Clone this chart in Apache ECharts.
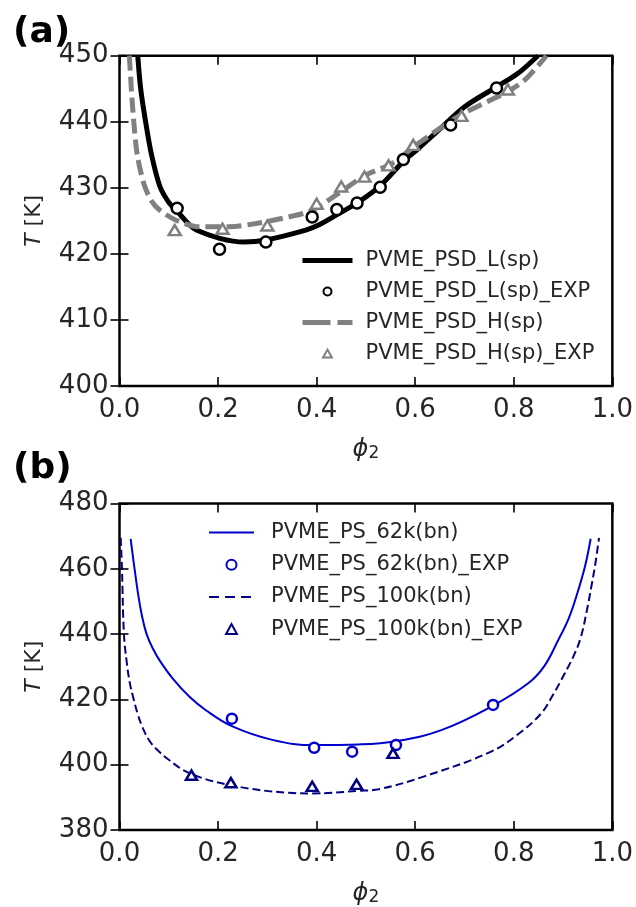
<!DOCTYPE html>
<html>
<head>
<meta charset="utf-8">
<script src="https://cdn.jsdelivr.net/npm/echarts@6/dist/echarts.min.js"></script>
<style>
  html, body { margin: 0; padding: 0; background: #fff; }
  #chart { width: 636px; height: 907px; }
</style>
</head>
<body>
<div id="chart"></div>
<script>
// ---- (a) spinodal curves, PVME / PSD blends: [phi2, T in K] ----
const psdLowCurve = [
  [0.037, 450], [0.043, 445], [0.053, 440], [0.065, 435], [0.082, 430.2],
  [0.100, 427.8], [0.115, 426.6], [0.156, 423.6], [0.253, 421.8], [0.297, 422.1],
  [0.378, 423.6], [0.405, 424.4], [0.445, 426.1], [0.482, 427.7], [0.529, 430.3],
  [0.576, 434.0], [0.606, 435.9], [0.647, 438.7], [0.701, 442.3], [0.761, 445.1],
  [0.808, 447.3], [0.849, 450]
];
const psdLowExp = [
  [0.117, 426.9], [0.203, 420.7], [0.297, 421.8], [0.391, 425.6], [0.441, 426.7],
  [0.482, 427.7], [0.529, 430.1], [0.576, 434.3], [0.672, 439.5], [0.765, 445.1]
];
const psdHighCurve = [
  [0.020, 450], [0.024, 445], [0.029, 440], [0.036, 435], [0.050, 430.5],
  [0.065, 428.0], [0.082, 426.6], [0.115, 425.1], [0.162, 424.1], [0.223, 424.1],
  [0.277, 424.6], [0.344, 425.6], [0.391, 426.6], [0.445, 429.2], [0.499, 431.9],
  [0.553, 433.7], [0.606, 436.7], [0.694, 441.1], [0.781, 444.3], [0.822, 446.3],
  [0.862, 449.6], [0.866, 450]
];
const psdHighExp = [
  [0.112, 423.6], [0.209, 423.8], [0.300, 424.3], [0.400, 427.6], [0.450, 430.2],
  [0.497, 431.7], [0.546, 433.4], [0.596, 436.5], [0.694, 440.9], [0.788, 444.9]
];

// ---- (b) binodal curves, PVME / PS blends ----
const ps62kCurve = [
  [0.0226, 469.2], [0.027, 464.0], [0.031, 459.5], [0.037, 453.0], [0.045, 446.0],
  [0.055, 440.0], [0.068, 435.5], [0.082, 431.8], [0.109, 426.2], [0.142, 420.8],
  [0.176, 416.6], [0.228, 411.8], [0.310, 407.6], [0.395, 406.0], [0.485, 406.2],
  [0.561, 407.2], [0.653, 410.6], [0.758, 418.1], [0.830, 425.0], [0.862, 430.2],
  [0.889, 437.8], [0.912, 445.0], [0.929, 452.5], [0.945, 461.0], [0.956, 469.2]
];
const ps62kExp = [
  [0.228, 414.1], [0.395, 405.2], [0.472, 404.0], [0.561, 406.0], [0.758, 418.3]
];
const ps100kCurve = [
  [0.0024, 469.5], [0.005, 460.0], [0.009, 440.0], [0.015, 431.0], [0.021, 425.0],
  [0.028, 420.5], [0.038, 415.0], [0.048, 411.0], [0.060, 407.5], [0.075, 404.8],
  [0.100, 401.5], [0.142, 397.4], [0.226, 393.7], [0.344, 391.4], [0.391, 391.2],
  [0.485, 392.0], [0.526, 392.5], [0.620, 396.5], [0.754, 404.0], [0.810, 409.5],
  [0.855, 415.6], [0.880, 421.5], [0.9025, 427.7], [0.922, 433.5], [0.936, 439.0],
  [0.948, 447.0], [0.958, 455.0], [0.966, 462.0], [0.973, 469.5]
];
const ps100kExp = [
  [0.146, 396.8], [0.226, 394.5], [0.391, 393.4], [0.481, 394.0], [0.555, 403.5]
];

// ---- axis ticks ----
const phiTicks = [0.0, 0.2, 0.4, 0.6, 0.8, 1.0];
const tempTicksA = [400, 410, 420, 430, 440, 450];
const tempTicksB = [380, 400, 420, 440, 460, 480];

const FONT = 'DejaVu Sans';
const TXT = '#262626';
const GREY = '#808080';
const BLUE = '#0000cd';
const NAVY = '#000080';
// open triangle marker, aspect kept so legend icons are not stretched
const TRIANGLE = 'path://M0,11L6,0L12,11Z';

const tick = { inside: true, length: 9, lineStyle: { color: '#000', width: 1.6 } };

function xAxesFor(gridIndex) {
  const base = {
    type: 'value', gridIndex,
    min: phiTicks[0], max: phiTicks[phiTicks.length - 1],
    interval: phiTicks[1] - phiTicks[0],
    axisLine: { show: false }, axisTick: tick, splitLine: { show: false }
  };
  return [
    Object.assign({}, base, {
      position: 'bottom',
      axisLabel: { margin: 11, fontSize: 26, color: TXT, fontFamily: FONT,
                   formatter: v => v.toFixed(1) },
      name: '{i|ϕ}{s|2}', nameLocation: 'middle', nameGap: 51,
      nameTextStyle: {
        rich: {
          i: { fontSize: 24, fontStyle: 'italic', fontFamily: FONT, color: TXT },
          s: { fontSize: 17, fontFamily: FONT, color: TXT, padding: [8, 0, 0, 0] }
        }
      }
    }),
    Object.assign({}, base, { position: 'top', axisLabel: { show: false } })
  ];
}

function yAxesFor(gridIndex, ticks) {
  const base = {
    type: 'value', gridIndex,
    min: ticks[0], max: ticks[ticks.length - 1], interval: ticks[1] - ticks[0],
    axisLine: { show: false }, axisTick: tick, splitLine: { show: false }
  };
  return [
    Object.assign({}, base, {
      position: 'left',
      axisLabel: { margin: 11, fontSize: 26, color: TXT, fontFamily: FONT },
      name: '{i|T}{n| [K]}', nameLocation: 'middle', nameRotate: 90, nameGap: 74,
      nameTextStyle: {
        rich: {
          i: { fontSize: 22, fontStyle: 'italic', fontFamily: FONT, color: TXT },
          n: { fontSize: 22, fontFamily: FONT, color: TXT }
        }
      }
    }),
    Object.assign({}, base, { position: 'right', axisLabel: { show: false } })
  ];
}

function hollow(symbol, size, color, idx, data, name) {
  return {
    type: 'scatter', name, xAxisIndex: idx, yAxisIndex: idx, data,
    symbol, symbolSize: size, symbolKeepAspect: true,
    itemStyle: { color: '#fff', borderColor: color, borderWidth: 2.5, opacity: 1 },
    z: 4
  };
}

function curve(name, idx, data, color, width, type, smooth) {
  return {
    type: 'line', name, xAxisIndex: idx, yAxisIndex: idx, data,
    showSymbol: false, symbol: 'none', smooth,
    lineStyle: { color, width, type },
    itemStyle: { color },
    z: 3
  };
}

// line entries in the legend: draw only the stroke, no marker dot
const noDot = { opacity: 0 };

const option = {
  animation: false,
  backgroundColor: '#fff',
  grid: [
    { left: 119.5, top: 55.7, width: 495.5, height: 330.3, show: true,
      borderColor: '#000', borderWidth: 2.5, backgroundColor: 'transparent' },
    { left: 119.5, top: 503.5, width: 495.5, height: 331, show: true,
      borderColor: '#000', borderWidth: 2.5, backgroundColor: 'transparent' }
  ],
  xAxis: xAxesFor(0).concat(xAxesFor(1)),
  yAxis: yAxesFor(0, tempTicksA).concat(yAxesFor(1, tempTicksB)),
  graphic: [
    { type: 'text', left: 13, top: 15,
      style: { text: '(a)', fontSize: 36, fontWeight: 'bold', fontFamily: FONT, fill: '#000' } },
    { type: 'text', left: 13, top: 451,
      style: { text: '(b)', fontSize: 36, fontWeight: 'bold', fontFamily: FONT, fill: '#000' } }
  ],
  legend: [
    {
      orient: 'vertical', left: 300, top: 250, padding: 0,
      itemWidth: 50, itemHeight: 8, itemGap: 10,
      textStyle: { fontSize: 21, fontFamily: FONT, color: TXT, padding: [0, 0, 0, 8] },
      selectedMode: false,
      data: [
        { name: 'PVME_PSD_L(sp)', itemStyle: noDot,
          lineStyle: { color: '#000', width: 5, type: 'solid' } },
        { name: 'PVME_PSD_L(sp)_EXP' },
        { name: 'PVME_PSD_H(sp)', itemStyle: noDot,
          lineStyle: { color: GREY, width: 5, type: [28, 7] } },
        { name: 'PVME_PSD_H(sp)_EXP' }
      ]
    },
    {
      orient: 'vertical', left: 208, top: 522, padding: 0,
      itemWidth: 45, itemHeight: 10, itemGap: 11.2,
      textStyle: { fontSize: 21, fontFamily: FONT, color: TXT, padding: [0, 0, 0, 12] },
      selectedMode: false,
      data: [
        { name: 'PVME_PS_62k(bn)', itemStyle: noDot,
          lineStyle: { color: BLUE, width: 2, type: 'solid' } },
        { name: 'PVME_PS_62k(bn)_EXP' },
        { name: 'PVME_PS_100k(bn)', itemStyle: noDot,
          lineStyle: { color: NAVY, width: 2, type: [10, 6] } },
        { name: 'PVME_PS_100k(bn)_EXP' }
      ]
    }
  ],
  series: [
    curve('PVME_PSD_L(sp)', 0, psdLowCurve, '#000', 5, 'solid', 0.3),
    hollow('circle', 11, '#000', 0, psdLowExp, 'PVME_PSD_L(sp)_EXP'),
    curve('PVME_PSD_H(sp)', 0, psdHighCurve, GREY, 5, [15, 6], 0.3),
    hollow(TRIANGLE, [12, 11], GREY, 0, psdHighExp, 'PVME_PSD_H(sp)_EXP'),

    curve('PVME_PS_62k(bn)', 2, ps62kCurve, BLUE, 2, 'solid', 0.4),
    hollow('circle', 10, BLUE, 2, ps62kExp, 'PVME_PS_62k(bn)_EXP'),
    curve('PVME_PS_100k(bn)', 2, ps100kCurve, NAVY, 2, [8, 4], 0.4),
    hollow(TRIANGLE, [11, 10], NAVY, 2, ps100kExp, 'PVME_PS_100k(bn)_EXP')
  ]
};

const chart = echarts.init(document.getElementById('chart'), null, { renderer: 'canvas' });
chart.setOption(option);
</script>
</body>
</html>
